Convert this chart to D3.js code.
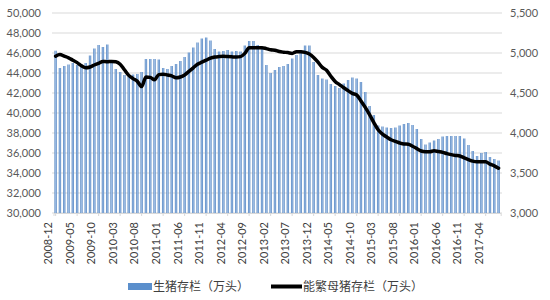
<!DOCTYPE html>
<html><head><meta charset="utf-8">
<script src="https://cdn.jsdelivr.net/npm/d3@7"></script>
<style>
html,body{margin:0;padding:0;background:#fff;}
text{font-family:Lato,"Noto Sans CJK SC",sans-serif;}
</style></head>
<body><svg id="c" width="550" height="300"></svg>
<script>
// Categories: monthly, 2008-12 .. 2017-07
const startYear = 2008, startMonth = 12, nMonths = 104;
const months = [];
for (let k = 0; k < nMonths; k++) {
  const m0 = startMonth - 1 + k;
  const y = startYear + Math.floor(m0 / 12), m = (m0 % 12) + 1;
  months.push(y + "-" + (m < 10 ? "0" + m : m));
}
// 生猪存栏（万头）
const hogStock = [
46230,44500,44700,44850,45000,44800,44850,45000,45750,46450,
46800,46600,46850,45300,44400,44100,43800,43650,43850,43900,
44100,45400,45400,45400,45350,44500,44400,44700,44900,45200,
45600,46050,46550,47050,47450,47550,47250,46400,46150,46200,
46300,46150,46200,46150,46750,47200,47200,46800,46600,44800,
44000,44300,44600,44700,44900,45450,45800,46300,46750,46750,
45100,43800,43450,43350,42900,42700,42500,42950,43300,43550,
43450,43100,42100,40700,39800,38750,38650,38550,38500,38550,
38750,38900,39000,38800,38400,37400,36850,37050,37250,37400,
37650,37700,37700,37700,37700,37450,36800,36200,35700,36000,
36100,35600,35400,35250];
// 能繁母猪存栏（万头）
const sowStock = [
4960,4980,4960,4940,4910,4880,4840,4815,4825,4850,
4870,4895,4890,4895,4890,4860,4790,4720,4680,4645,
4580,4700,4695,4665,4730,4735,4725,4715,4690,4700,
4725,4770,4815,4860,4885,4910,4935,4950,4955,4958,
4955,4952,4950,4955,4995,5065,5066,5065,5066,5055,
5040,5035,5018,5010,5005,4995,5016,5016,5008,4988,
4945,4885,4820,4785,4710,4645,4605,4565,4530,4495,
4475,4400,4320,4230,4130,4040,3985,3950,3915,3895,
3875,3862,3860,3835,3805,3775,3766,3766,3778,3768,
3758,3742,3730,3720,3712,3690,3668,3648,3641,3641,
3640,3612,3590,3560];
const leftTicks = [30000,32000,34000,36000,38000,40000,42000,44000,46000,48000,50000];
const rightTicks = [3000,3500,4000,4500,5000,5500];
const legendNames = ["生猪存栏（万头）","能繁母猪存栏（万头）"];

const svg = d3.select("#c");
const defs = svg.append("defs");
const grad = defs.append("linearGradient").attr("id", "bg").attr("x1", "0").attr("x2", "1").attr("y1", "0").attr("y2", "0");
grad.append("stop").attr("offset", "0").attr("stop-color", "#4f81bd");
grad.append("stop").attr("offset", "0.5").attr("stop-color", "#9dbde6");
grad.append("stop").attr("offset", "1").attr("stop-color", "#4f81bd");

const x = d3.scaleBand().domain(months).range([53.5, 500.7]).paddingInner(0.45).paddingOuter(0.22);
const yL = d3.scaleLinear().domain([30000, 50000]).range([213, 13]);
const yR = d3.scaleLinear().domain([3000, 5500]).range([213, 13]);
const fmt = d3.format(",");

// gridlines
svg.append("g").selectAll("line").data(leftTicks).join("line")
  .attr("x1", 52).attr("x2", 502)
  .attr("y1", d => yL(d)).attr("y2", d => yL(d))
  .attr("stroke", "#d9d9d9").attr("stroke-width", 1);

// left axis
const gl = svg.append("g").attr("transform", "translate(41,0)")
  .call(d3.axisLeft(yL).tickValues(leftTicks).tickFormat(fmt).tickSize(0).tickPadding(0));
gl.select(".domain").remove();
gl.selectAll("text").attr("fill", "#595959").style("font-size", "11px").style("font-family", "Lato,sans-serif");

// right axis
const gr = svg.append("g").attr("transform", "translate(510,0)")
  .call(d3.axisRight(yR).tickValues(rightTicks).tickFormat(fmt).tickSize(0).tickPadding(0));
gr.select(".domain").remove();
gr.selectAll("text").attr("fill", "#595959").style("font-size", "11px").style("font-family", "Lato,sans-serif");

// bars
svg.append("g").selectAll("rect").data(hogStock).join("rect")
  .attr("x", (d, i) => x(months[i]))
  .attr("width", x.bandwidth())
  .attr("y", d => yL(d))
  .attr("height", d => yL(30000) - yL(d))
  .attr("fill", "url(#bg)");

// x axis
const tickVals = months.filter((d, i) => i % 5 === 0);
const gx = svg.append("g").attr("transform", "translate(0,213)")
  .call(d3.axisBottom(x).tickValues(tickVals).tickSize(3).tickPadding(4));
gx.select(".domain").attr("stroke", "#d9d9d9");
gx.selectAll(".tick line").attr("stroke", "#d9d9d9");
gx.selectAll("text")
  .attr("fill", "#404040").style("font-size", "11px").style("font-family", "Lato,sans-serif")
  .attr("text-anchor", "end").attr("dy", "0.35em")
  .attr("transform", "rotate(-90) translate(-9,-7)")
  .attr("x", 0).attr("y", 0);

// line
const line = d3.line().x((d, i) => x(months[i]) + x.bandwidth() / 2).y(d => yR(d)).curve(d3.curveMonotoneX);
svg.append("path").datum(sowStock).attr("d", line)
  .attr("fill", "none").attr("stroke", "#000").attr("stroke-width", 3.5)
  .attr("stroke-linejoin", "round").attr("stroke-linecap", "round");

// legend
const lg = svg.append("g");
lg.append("rect").attr("x", 128).attr("y", 283).attr("width", 24).attr("height", 7).attr("fill", "#5b8fcc");
lg.append("text").attr("x", 153).attr("y", 291).text(legendNames[0])
  .attr("fill", "#404040").style("font-size", "12px").style("font-family", "'Noto Sans CJK SC',sans-serif");
lg.append("line").attr("x1", 271).attr("x2", 302).attr("y1", 286.5).attr("y2", 286.5)
  .attr("stroke", "#000").attr("stroke-width", 4);
lg.append("text").attr("x", 303).attr("y", 291).text(legendNames[1])
  .attr("fill", "#404040").style("font-size", "12px").style("font-family", "'Noto Sans CJK SC',sans-serif");
</script></body></html>
